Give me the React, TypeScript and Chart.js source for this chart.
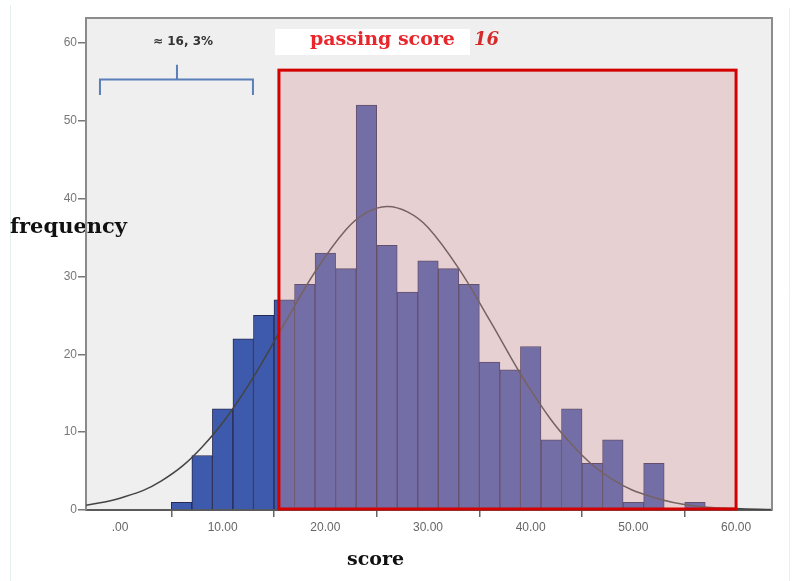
import React, { useEffect, useRef } from "react";
import { Chart, registerables } from "chart.js";

Chart.register(...registerables);

// ---- data ----
const binCenters = [6, 8, 10, 12, 14, 16, 18, 20, 22, 24, 26, 28, 30, 32, 34, 36, 38, 40, 42, 44, 46, 48, 50, 52, 54, 56];
const frequencies = [1, 7, 13, 22, 25, 27, 29, 33, 31, 52, 34, 28, 32, 31, 29, 19, 18, 21, 9, 13, 6, 9, 1, 6, 0, 1];

const curveX = [-3.3, 0, 4, 8, 12, 16, 19, 22, 24, 26, 28, 30, 33, 36, 40, 44, 48, 52, 56, 60, 63.5];
const curveY = [0.6, 1.5, 3.7, 8.1, 15.0, 23.9, 30.6, 36.0, 38.2, 39.0, 38.3, 36.3, 31.0, 24.4, 15.4, 8.4, 3.9, 1.6, 0.5, 0.2, 0.05];

const xTicks = [0, 10, 20, 30, 40, 50, 60];
const xTickLabels = [".00", "10.00", "20.00", "30.00", "40.00", "50.00", "60.00"];
const yTicks = [0, 10, 20, 30, 40, 50, 60];
const yTickLabels = ["0", "10", "20", "30", "40", "50", "60"];

const xRange = [-3.31, 63.5];
const yRange = [0, 63.2];

// passing region box (score 15.5 .. 60, up to frequency 56.6)
const passBox = { x0: 15.48, x1: 60.0, yTop: 56.5 };
// bracket marking the failing share
const bracket = { x0: -1.95, x1: 12.95, xMid: 5.55, yBar: 55.3, yLeg: 53.3, yStem: 57.2 };

const titleText = "passing score";
const titleValue = "16";
const shareText = "≈ 16, 3%";
const yAxisTitle = "frequency";
const xAxisTitle = "score";

export default function App() {
  const canvasRef = useRef<HTMLCanvasElement | null>(null);

  useEffect(() => {
    document.body.style.margin = "0";
    const canvas = canvasRef.current;
    if (!canvas) return;

    const decor = {
      id: "decor",
      beforeDraw(chart: any) {
        const { ctx, chartArea: a } = chart;
        ctx.save();
        ctx.fillStyle = "#ffffff";
        ctx.fillRect(0, 0, chart.width, chart.height);
        // faint edge lines
        ctx.strokeStyle = "#e3f0f0";
        ctx.lineWidth = 1;
        ctx.beginPath();
        ctx.moveTo(10.5, 5);
        ctx.lineTo(10.5, chart.height);
        ctx.moveTo(789.5, 8);
        ctx.lineTo(789.5, chart.height);
        ctx.stroke();
        // plot background
        ctx.fillStyle = "#efefef";
        ctx.fillRect(a.left, a.top, a.right - a.left, a.bottom - a.top);
        // y axis title (under the axis line)
        ctx.fillStyle = "#111111";
        ctx.font = "bold 21px 'DejaVu Serif'";
        ctx.textAlign = "left";
        ctx.textBaseline = "alphabetic";
        ctx.fillText(yAxisTitle, 10, 233);
        ctx.restore();
      },
      afterDatasetsDraw(chart: any) {
        const { ctx } = chart;
        const xs = chart.scales.x;
        const ys = chart.scales.y;
        ctx.save();
        const l = xs.getPixelForValue(passBox.x0);
        const r = xs.getPixelForValue(passBox.x1);
        const t = ys.getPixelForValue(passBox.yTop);
        const b = ys.getPixelForValue(0);
        ctx.fillStyle = "rgba(218,153,154,0.35)";
        ctx.fillRect(l, t, r - l, b - t);
        ctx.strokeStyle = "#d40000";
        ctx.lineWidth = 3;
        ctx.strokeRect(l, t, r - l, b - t - 1);

        // bracket
        const bx0 = xs.getPixelForValue(bracket.x0);
        const bx1 = xs.getPixelForValue(bracket.x1);
        const bxm = xs.getPixelForValue(bracket.xMid);
        const by = ys.getPixelForValue(bracket.yBar);
        const bl = ys.getPixelForValue(bracket.yLeg);
        const bs = ys.getPixelForValue(bracket.yStem);
        ctx.strokeStyle = "#5b7fb8";
        ctx.lineWidth = 2;
        ctx.beginPath();
        ctx.moveTo(bx0, bl);
        ctx.lineTo(bx0, by);
        ctx.lineTo(bx1, by);
        ctx.lineTo(bx1, bl);
        ctx.moveTo(bxm, by);
        ctx.lineTo(bxm, bs);
        ctx.stroke();
        ctx.restore();
      },
      afterDraw(chart: any) {
        const { ctx, chartArea: a } = chart;
        ctx.save();
        // frame top & right
        ctx.strokeStyle = "#8c8c8c";
        ctx.lineWidth = 2;
        ctx.beginPath();
        ctx.moveTo(a.left, a.top);
        ctx.lineTo(a.right, a.top);
        ctx.lineTo(a.right, a.bottom);
        ctx.stroke();

        // title box
        ctx.fillStyle = "#ffffff";
        ctx.fillRect(275, 29, 195, 26);
        ctx.textAlign = "left";
        ctx.textBaseline = "alphabetic";
        ctx.fillStyle = "#e8262c";
        ctx.font = "bold 19px 'DejaVu Serif'";
        ctx.fillText(titleText, 310, 45);
        ctx.fillStyle = "#d42a2a";
        ctx.font = "italic bold 18px 'DejaVu Serif'";
        ctx.fillText(titleValue, 474, 45);

        // share annotation
        ctx.fillStyle = "#333333";
        ctx.font = "bold 12px 'DejaVu Sans'";
        ctx.textAlign = "center";
        ctx.textBaseline = "middle";
        ctx.fillText(shareText, 183, 42);

        // x axis title
        ctx.fillStyle = "#111111";
        ctx.font = "bold 19px 'DejaVu Serif'";
        ctx.textAlign = "left";
        ctx.textBaseline = "alphabetic";
        ctx.fillText(xAxisTitle, 347, 565);
        ctx.restore();
      },
    };

    const chart = new Chart(canvas, {
      type: "bar",
      data: {
        datasets: [
          {
            type: "bar",
            data: binCenters.map((x, i) => ({ x, y: frequencies[i] })),
            backgroundColor: "#3d5aad",
            borderColor: "#272a52",
            borderWidth: 1,
            barPercentage: 1,
            categoryPercentage: 1,
            order: 2,
          } as any,
          {
            type: "line",
            data: curveX.map((x, i) => ({ x, y: curveY[i] })),
            borderColor: "#444444",
            borderWidth: 1.5,
            pointRadius: 0,
            tension: 0.4,
            fill: false,
            order: 1,
          } as any,
        ],
      },
      options: {
        animation: false,
        responsive: false,
        maintainAspectRatio: false,
        layout: { padding: { top: 18, right: 21, bottom: 0, left: 0 } },
        plugins: { legend: { display: false }, tooltip: { enabled: false } },
        scales: {
          x: {
            type: "linear",
            min: xRange[0],
            max: xRange[1],
            offset: false,
            afterBuildTicks: (s: any) => {
              s.ticks = xTicks.map((v) => ({ value: v }));
            },
            afterFit: (s: any) => {
              s.height = 71;
            },
            ticks: {
              autoSkip: false,
              maxRotation: 0,
              padding: 3,
              color: "#666666",
              font: { family: "'Liberation Sans', Arial", size: 12 },
              callback: (_v: any, i: number) => xTickLabels[i],
            },
            grid: { drawOnChartArea: false, drawTicks: true, tickLength: 7, color: "#666666", lineWidth: 1.5 },
            border: { display: true, color: "#5a5a5a", width: 2 },
          },
          y: {
            type: "linear",
            min: yRange[0],
            max: yRange[1],
            afterBuildTicks: (s: any) => {
              s.ticks = yTicks.map((v) => ({ value: v }));
            },
            afterFit: (s: any) => {
              s.width = 86;
            },
            ticks: {
              autoSkip: false,
              padding: 1,
              color: "#777777",
              font: { family: "'Liberation Sans', Arial", size: 12 },
              callback: (_v: any, i: number) => yTickLabels[i],
            },
            grid: { drawOnChartArea: false, drawTicks: true, tickLength: 8, color: "#777777", lineWidth: 1.5 },
            border: { display: true, color: "#8a8a8a", width: 2 },
          },
        },
      } as any,
      plugins: [decor],
    });

    return () => {
      chart.destroy();
    };
  }, []);

  return (
    <div style={{ position: "relative", width: 793, height: 581 }}>
      <canvas ref={canvasRef} width={793} height={581} style={{ display: "block" }} />
    </div>
  );
}
